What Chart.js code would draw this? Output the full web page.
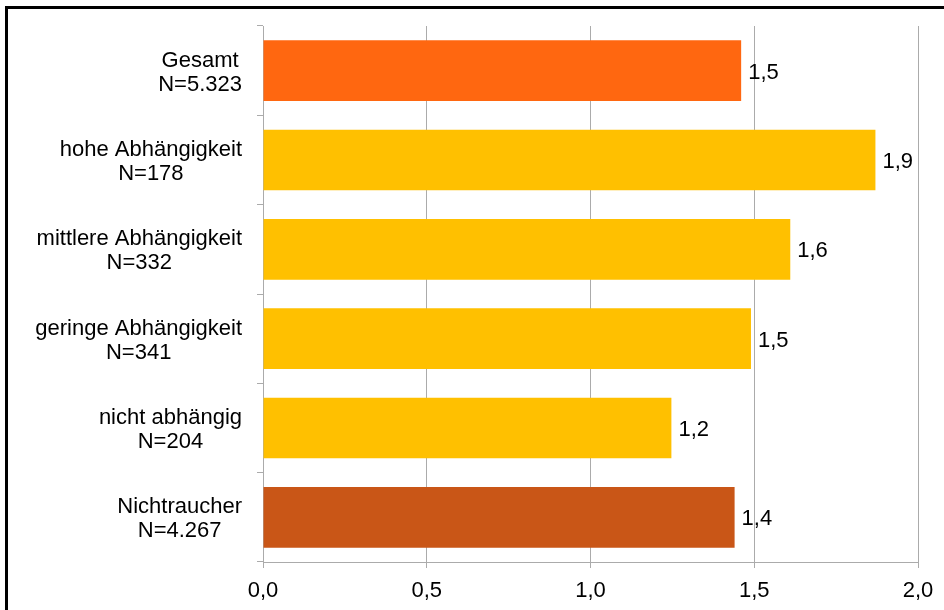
<!DOCTYPE html>
<html>
<head>
<meta charset="utf-8">
<script src="https://cdn.jsdelivr.net/npm/chart.js@4"></script>
<style>
    body { margin: 0; background: #fff; }
    #wrap { position: relative; width: 944px; height: 610px; overflow: hidden; }
    #frame {
        position: absolute; left: 5px; top: 6px; width: 1000px; height: 700px;
        border-top: 3px solid #000; border-left: 3px solid #000;
        pointer-events: none;
    }
    canvas { position: absolute; left: 0; top: 0; }
</style>
</head>
<body>
<div id="wrap">
    <canvas id="chart" width="944" height="610"></canvas>
    <div id="frame"></div>
</div>
<script>
// data
const categories = ['Gesamt', 'hohe Abhängigkeit', 'mittlere Abhängigkeit', 'geringe Abhängigkeit', 'nicht abhängig', 'Nichtraucher'];
const sampleSizes = ['N=5.323', 'N=178', 'N=332', 'N=341', 'N=204', 'N=4.267'];
const values = [1.46, 1.87, 1.61, 1.49, 1.247, 1.44];
const xTicks = [0, 0.5, 1.0, 1.5, 2.0];

const barColors = ['#FF6710', '#FFC000', '#FFC000', '#FFC000', '#FFC000', '#C95617'];
const gridGray = '#ABABAB';
const fontFamily = "'Liberation Sans', Arial, sans-serif";
const fontSize = 22;

const fmt = v => v.toFixed(1).replace('.', ',');

Chart.defaults.font.family = fontFamily;
Chart.defaults.font.size = fontSize;
Chart.defaults.color = '#000';

// value labels right of each bar
const barValueLabels = {
    id: 'barValueLabels',
    afterDatasetsDraw(chart) {
        const ctx = chart.ctx;
        const meta = chart.getDatasetMeta(0);
        ctx.save();
        ctx.font = fontSize + 'px ' + fontFamily;
        ctx.fillStyle = '#000';
        ctx.textAlign = 'left';
        ctx.textBaseline = 'middle';
        meta.data.forEach((bar, i) => {
            ctx.fillText(fmt(values[i]), bar.x + 7, bar.y + 2);
        });
        ctx.restore();
    }
};

// two-line category labels, lines centred on each other, block right-aligned
const categoryLabels = {
    id: 'categoryLabels',
    afterDraw(chart) {
        const ctx = chart.ctx;
        const yScale = chart.scales.y;
        const right = yScale.right - 21;
        ctx.save();
        ctx.font = fontSize + 'px ' + fontFamily;
        ctx.fillStyle = '#000';
        ctx.textAlign = 'center';
        ctx.textBaseline = 'middle';
        categories.forEach((cat, i) => {
            const lines = [cat, sampleSizes[i]];
            const w = Math.max(...lines.map(l => ctx.measureText(l).width));
            const cx = right - w / 2;
            const cy = yScale.getPixelForTick(i);
            ctx.fillText(lines[0], cx, cy - 10);
            ctx.fillText(lines[1], cx, cy + 14);
        });
        ctx.restore();
    }
};

const ctx = document.getElementById('chart').getContext('2d');
new Chart(ctx, {
    type: 'bar',
    data: {
        labels: categories.map((c, i) => [c, sampleSizes[i]]),
        datasets: [{
            data: values,
            backgroundColor: barColors,
            barPercentage: 0.68,
            categoryPercentage: 1.0
        }]
    },
    options: {
        indexAxis: 'y',
        responsive: false,
        animation: false,
        layout: { padding: { top: 26, right: 26, left: 0, bottom: 0 } },
        plugins: {
            legend: { display: false },
            tooltip: { enabled: false }
        },
        scales: {
            x: {
                min: 0,
                max: 2,
                afterBuildTicks: scale => { scale.ticks = xTicks.map(v => ({ value: v })); },
                afterFit: scale => { scale.height = 48; },
                ticks: {
                    callback: v => fmt(v),
                    padding: 10,
                    maxRotation: 0
                },
                grid: { color: gridGray, tickLength: 6 },
                border: { color: gridGray }
            },
            y: {
                afterFit: scale => { scale.width = 263; },
                ticks: { display: false },
                grid: { drawOnChartArea: false, color: gridGray, tickLength: 6 },
                border: { color: gridGray }
            }
        }
    },
    plugins: [barValueLabels, categoryLabels]
});
</script>
</body>
</html>
